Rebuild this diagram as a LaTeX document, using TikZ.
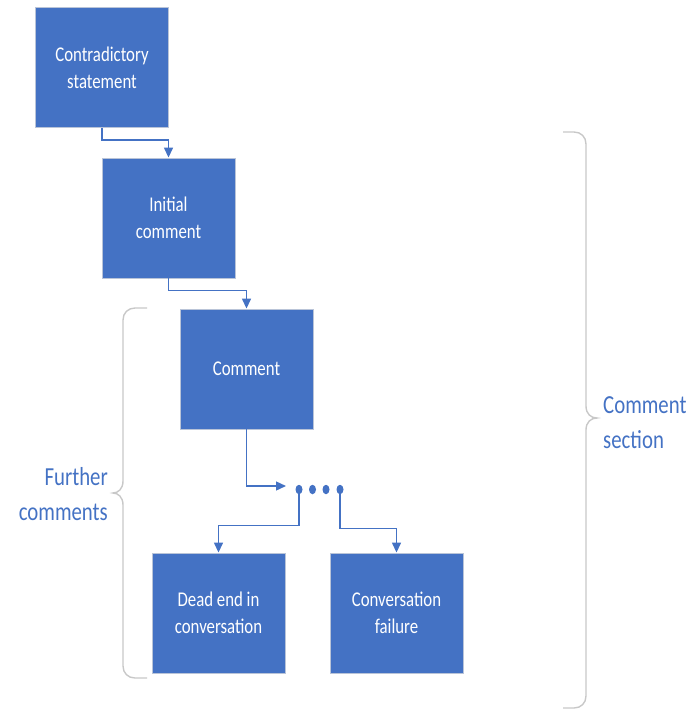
\documentclass[tikz,border=0pt]{standalone}
\usepackage{fontspec}
\setmainfont{Carlito}
\newfontfamily\boxfont[FakeStretch=0.8]{Carlito}
\usetikzlibrary{arrows.meta,shapes.geometric}
\definecolor{obl}{HTML}{4472C4}
\definecolor{bordc}{RGB}{185,196,216}
\definecolor{bracec}{RGB}{200,200,200}
\tikzset{
  blk/.style={rectangle, fill=obl, draw=bordc, line width=0.9pt, minimum width=133pt, minimum height=120pt,
    text=white, align=center, font=\boxfont\fontsize{21pt}{27pt}\selectfont, inner sep=0pt},
  conn/.style={draw=obl, line width=1.4pt, -{Triangle[length=10pt,width=9pt]}},
  dotn/.style={ellipse, fill=obl, minimum width=7pt, minimum height=9.5pt, inner sep=0pt},
  bracel/.style={draw=bracec, line width=1.4pt},
  lbl/.style={text=obl, font=\boxfont\fontsize{26pt}{35pt}\selectfont, inner sep=0pt}
}
\begin{document}
\begin{tikzpicture}[x=1pt,y=-1pt]
\useasboundingbox (0,0) rectangle (697,710);
\node[blk] (b1) at (102,67.5) {Contradictory\\statement};
\node[blk] (b2) at (168.5,218) {Initial\\comment};
\node[blk] (b3) at (246.5,369) {Comment};
\node[blk] (b4) at (218.5,613) {Dead end in\\conversation};
\node[blk] (b5) at (396.5,613) {Conversation\\failure};
\node[dotn] (d1) at (299,489.5) {};
\node[dotn] (d2) at (312.5,489.5) {};
\node[dotn] (d3) at (326,489.5) {};
\node[dotn] (d4) at (340,489.5) {};
\coordinate (a3end) at (286,486);
\draw[conn] (b1.south) -- ++(0,12) -| (b2.north);
\draw[conn] (b2.south) -- ++(0,12) -| (b3.north);
\draw[conn] (b3.south) |- (a3end);
\draw[conn] (d1.south) -- ++(0,31) -| (b4.north);
\draw[conn] (d4.south) -- ++(0,34) -| (b5.north);
% braces
\draw[bracel] (147,308) -- (135,308) .. controls (128,308) and (123,313) .. (123,320)
  -- (123,481) .. controls (123,489) and (118,493) .. (113,493)
  .. controls (118,493) and (123,497) .. (123,505)
  -- (123,666) .. controls (123,673) and (128,678) .. (135,678) -- (147,678);
\draw[bracel] (563,132) -- (574,132) .. controls (581,132) and (586,137) .. (586,144)
  -- (586,406) .. controls (586,414) and (591,418) .. (597,418)
  .. controls (591,418) and (586,422) .. (586,430)
  -- (586,696) .. controls (586,703) and (581,708) .. (574,708) -- (563,708);
\node[lbl, align=right, anchor=east] (lf) at (108,494) {Further\\comments};
\node[lbl, align=left, anchor=west] (lc) at (603,423) {Comment\\section};
\end{tikzpicture}
\end{document}
